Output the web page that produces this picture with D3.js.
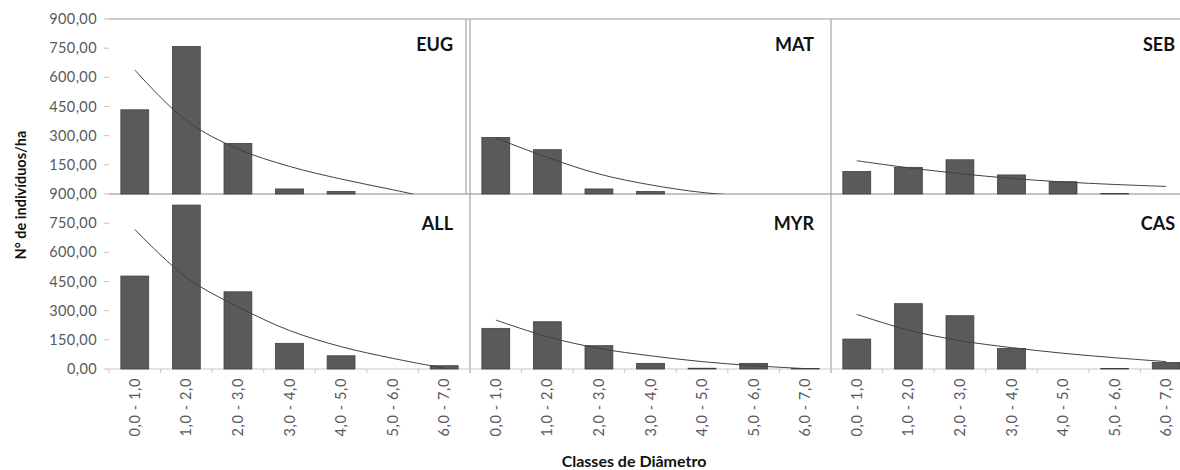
<!DOCTYPE html>
<html>
<head>
<meta charset="utf-8">
<script src="https://cdn.jsdelivr.net/npm/d3@7"></script>
<style>
  html, body { margin: 0; padding: 0; background: #fff; }
  svg { display: block; }
</style>
</head>
<body>
<svg id="chart" width="1180" height="470"></svg>
<script>
// ---------- DATA ----------
const categories = ["0,0 - 1,0", "1,0 - 2,0", "2,0 - 3,0", "3,0 - 4,0", "4,0 - 5,0", "5,0 - 6,0", "6,0 - 7,0"];
const panelNames = ["EUG", "MAT", "SEB", "ALL", "MYR", "CAS"];
const valuesEUG = [433, 759, 260, 26, 13, 0, 0];
const valuesMAT = [291, 228, 26, 13, 0, 0, 0];
const valuesSEB = [116, 137, 176, 98, 63, 3, 0];
const valuesALL = [478, 843, 397, 132, 68, 0, 17];
const valuesMYR = [209, 243, 120, 29, 4, 29, 3];
const valuesCAS = [154, 336, 274, 106, 0, 3, 34];
// trend line values read at each class centre (null = not drawn)
const trendEUG = [638, 377, 232, 142, 77, 22, -35];
const trendMAT = [288, 188, 103, 47, 8, -12, null];
const trendSEB = [171, 135, 105, 80, 62, 49, 39];
const trendALL = [718, 471, 320, 198, 115, 55, 4];
const trendMYR = [252, 166, 106, 68, 38, 17, 2];
const trendCAS = [281, 200, 146, 110, 81, 58, 38];
const yTicks = [0, 150, 300, 450, 600, 750, 900];
const yMax = 900;
const xTitle = "Classes de Diâmetro";
const yTitle = "N° de indivíduos/ha";

// ---------- LAYOUT ----------
const colX = [109, 470, 831];
const colW = 361;
const rowY = [19, 194];
const rowH = 175;
const fontFam = "Lato, 'Open Sans', sans-serif";

const panels = [
  { name: panelNames[0], values: valuesEUG, trend: trendEUG, col: 0, row: 0 },
  { name: panelNames[1], values: valuesMAT, trend: trendMAT, col: 1, row: 0 },
  { name: panelNames[2], values: valuesSEB, trend: trendSEB, col: 2, row: 0 },
  { name: panelNames[3], values: valuesALL, trend: trendALL, col: 0, row: 1 },
  { name: panelNames[4], values: valuesMYR, trend: trendMYR, col: 1, row: 1 },
  { name: panelNames[5], values: valuesCAS, trend: trendCAS, col: 2, row: 1 },
];

const svg = d3.select("#chart");
const fmt = v => d3.format(".2f")(v).replace(".", ",");

// frame: top border
svg.append("line")
  .attr("x1", colX[0]).attr("x2", 1180).attr("y1", rowY[0]).attr("y2", rowY[0])
  .attr("stroke", "#9a9a9a").attr("stroke-width", 1.2);

// vertical separators
[colX[1] - 4, colX[1], colX[2]].forEach((x, i) => {
  svg.append("line")
    .attr("x1", x).attr("x2", x)
    .attr("y1", rowY[0]).attr("y2", i === 0 ? rowY[0] + rowH : rowY[1] + rowH + 4)
    .attr("stroke", "#a5a5a5").attr("stroke-width", 1.2);
});

const defs = svg.append("defs");

panels.forEach((p, i) => {
  const x0 = colX[p.col];
  const top = rowY[p.row];
  const x = d3.scaleBand().domain(categories).range([x0, x0 + colW]).paddingInner(0.46).paddingOuter(0.23);
  const y = d3.scaleLinear().domain([0, yMax]).range([top + rowH, top]);

  const g = svg.append("g");

  // baseline
  g.append("line")
    .attr("x1", x0).attr("x2", Math.min(x0 + colW, 1180))
    .attr("y1", y(0)).attr("y2", y(0))
    .attr("stroke", p.row === 0 ? "#8c8c8c" : "#c8c8c8").attr("stroke-width", 1.2);

  // bars
  g.selectAll("rect.bar").data(p.values).join("rect")
    .attr("class", "bar")
    .attr("x", (d, j) => x(categories[j]))
    .attr("width", x.bandwidth())
    .attr("y", d => y(d))
    .attr("height", d => y(0) - y(d))
    .attr("fill", "#5a5a5a")
    .attr("stroke", "#404040")
    .attr("stroke-width", 0.8);

  // trend line
  const clipId = "clip" + i;
  defs.append("clipPath").attr("id", clipId)
    .append("rect").attr("x", x0).attr("y", top).attr("width", colW).attr("height", rowH);
  const pts = p.trend.map((v, j) => [x(categories[j]) + x.bandwidth() / 2, v]).filter(d => d[1] !== null);
  const line = d3.line().x(d => d[0]).y(d => y(d[1])).curve(d3.curveCatmullRom.alpha(0.5));
  g.append("path")
    .attr("d", line(pts))
    .attr("fill", "none")
    .attr("stroke", "#404040")
    .attr("stroke-width", 1)
    .attr("clip-path", `url(#${clipId})`);

  // panel label
  g.append("text")
    .attr("x", x0 + 344)
    .attr("y", top + (p.row === 0 ? 32 : 36))
    .attr("text-anchor", "end")
    .attr("font-family", fontFam)
    .attr("font-weight", "bold")
    .attr("font-size", 18)
    .attr("fill", "#111")
    .text(p.name);

  // x axis tick marks & labels for bottom row
  if (p.row === 1) {
    const bounds = categories.map(c => x(c) - x.step() * x.paddingInner() / 2);
    bounds.push(x0 + colW);
    g.selectAll("line.xt").data(bounds.filter(b => b < 1180)).join("line")
      .attr("x1", d => d).attr("x2", d => d)
      .attr("y1", y(0)).attr("y2", y(0) + 4)
      .attr("stroke", "#c8c8c8");
    g.selectAll("text.xl").data(categories).join("text")
      .attr("class", "xl")
      .attr("transform", d => `translate(${x(d) + x.bandwidth() / 2 + 5},${y(0) + 9}) rotate(-90)`)
      .attr("text-anchor", "end")
      .attr("font-family", fontFam)
      .attr("font-size", 14.5)
      .attr("letter-spacing", 0.6)
      .attr("fill", "#595959")
      .text(d => d);
  }
});

// y axis ticks/labels
rowY.forEach((top, r) => {
  const y = d3.scaleLinear().domain([0, yMax]).range([top + rowH, top]);
  const ticks = r === 0 ? yTicks.filter(t => t > 0) : yTicks;
  ticks.forEach(t => {
    svg.append("line")
      .attr("x1", colX[0] - 5).attr("x2", colX[0])
      .attr("y1", y(t)).attr("y2", y(t))
      .attr("stroke", "#c0c0c0");
    svg.append("text")
      .attr("x", 97).attr("y", y(t)).attr("dy", "0.35em")
      .attr("text-anchor", "end")
      .attr("font-family", fontFam)
      .attr("font-size", 14.5)
      .attr("letter-spacing", 0.4)
      .attr("fill", "#595959")
      .text(fmt(t));
  });
});

// axis titles
svg.append("text")
  .attr("x", 634).attr("y", 467)
  .attr("text-anchor", "middle")
  .attr("font-family", fontFam)
  .attr("font-weight", "bold")
  .attr("font-size", 16)
  .attr("fill", "#111")
  .text(xTitle);

svg.append("text")
  .attr("transform", "translate(26,195) rotate(-90)")
  .attr("text-anchor", "middle")
  .attr("font-family", fontFam)
  .attr("font-weight", "bold")
  .attr("font-size", 14.5)
  .attr("fill", "#111")
  .text(yTitle);
</script>
</body>
</html>
